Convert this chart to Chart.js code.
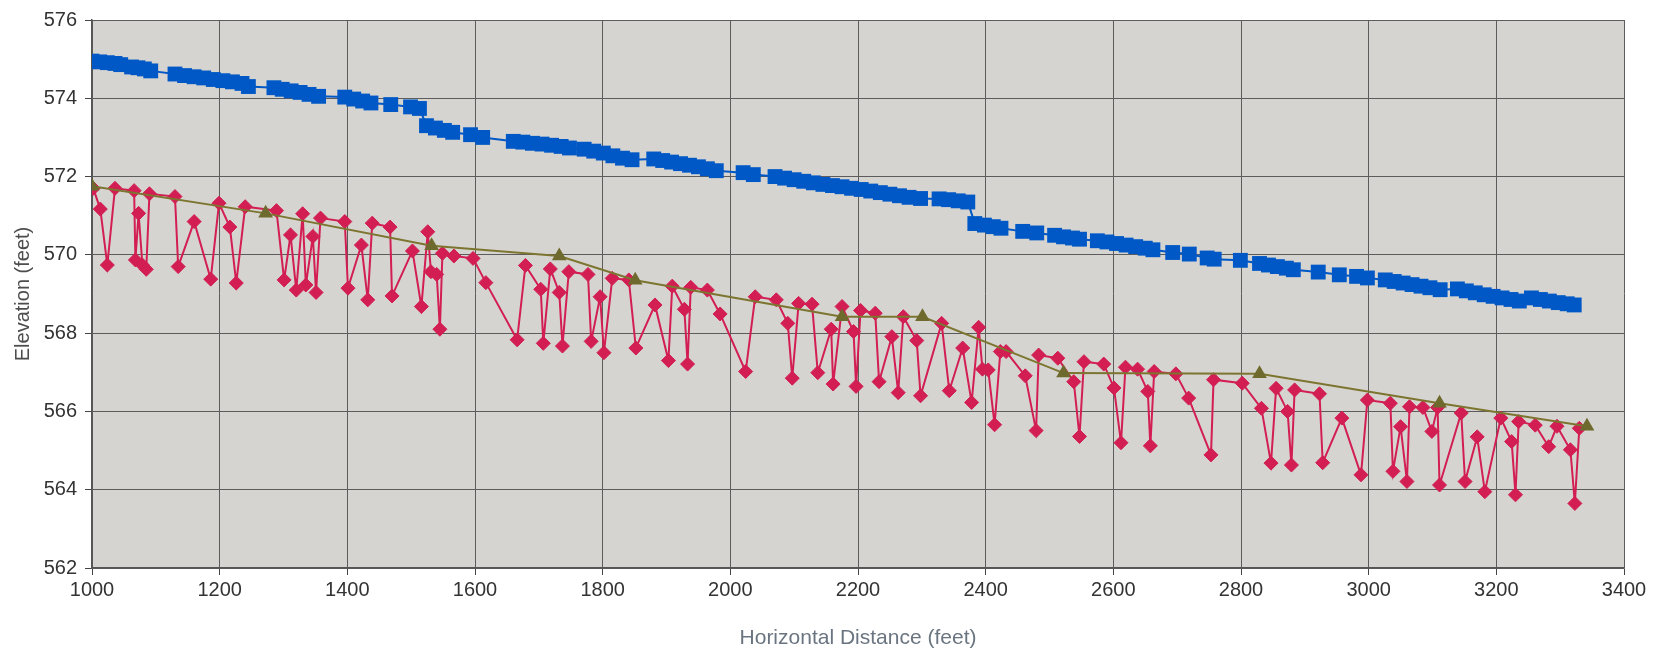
<!DOCTYPE html>
<html>
<head>
<meta charset="utf-8">
<script src="https://cdn.jsdelivr.net/npm/chart.js@4.4.1/dist/chart.umd.min.js"></script>
<style>
  html, body { margin: 0; padding: 0; background: #ffffff; }
  #wrap { width: 1657px; height: 652px; }
</style>
</head>
<body>
<div id="wrap"><canvas id="profile" width="1657" height="652"></canvas></div>
<script>
// water surface (blue squares)
const wsDist = [1000, 1012, 1024, 1036, 1045, 1062, 1072, 1082, 1092,
  1130, 1145, 1160, 1175, 1190, 1205, 1220, 1235, 1245,
  1285, 1298, 1312, 1326, 1340, 1355, 1396, 1410, 1424, 1437, 1468,
  1499, 1513, 1524, 1538, 1552, 1565, 1593, 1612,
  1660, 1675, 1690, 1705, 1720, 1735, 1748, 1771, 1786, 1801, 1816, 1831, 1846,
  1880, 1894, 1908, 1922, 1936, 1950, 1964, 1978, 2020, 2036,
  2070, 2085, 2100, 2115, 2130, 2145, 2160, 2175, 2190, 2205, 2220, 2235, 2250, 2265, 2280, 2298,
  2327, 2342, 2357, 2372, 2383, 2398, 2412, 2424, 2458, 2480, 2508, 2522, 2536, 2547,
  2575, 2590, 2605, 2620, 2635, 2650, 2662, 2693, 2719, 2747, 2758, 2799,
  2829, 2843, 2857, 2871, 2882, 2921, 2954, 2981, 2998,
  3026, 3040, 3054, 3068, 3082, 3096, 3112, 3139, 3153, 3167, 3181, 3195, 3209, 3223, 3236,
  3255, 3269, 3283, 3297, 3311, 3322];
const wsElev = [574.95, 574.93, 574.91, 574.89, 574.86, 574.80, 574.78, 574.75, 574.70,
  574.62, 574.58, 574.55, 574.52, 574.48, 574.45, 574.42, 574.38, 574.30,
  574.27, 574.23, 574.19, 574.15, 574.10, 574.05, 574.03, 573.98, 573.93, 573.88, 573.84,
  573.78, 573.74, 573.30, 573.24, 573.18, 573.13, 573.07, 573.00,
  572.90, 572.88, 572.85, 572.83, 572.80, 572.77, 572.73, 572.70, 572.65, 572.60, 572.53, 572.47, 572.43,
  572.45, 572.41, 572.37, 572.33, 572.29, 572.25, 572.20, 572.15, 572.10, 572.05,
  572.00, 571.96, 571.92, 571.88, 571.84, 571.80, 571.77, 571.74, 571.70, 571.67, 571.63, 571.59, 571.55, 571.51, 571.47, 571.44,
  571.43, 571.41, 571.38, 571.35, 570.80, 570.76, 570.72, 570.68, 570.60, 570.56, 570.50, 570.46, 570.43, 570.40,
  570.36, 570.33, 570.29, 570.25, 570.21, 570.17, 570.13, 570.06, 570.02, 569.92, 569.89, 569.86,
  569.78, 569.74, 569.70, 569.66, 569.62, 569.56, 569.49, 569.45, 569.41,
  569.36, 569.32, 569.28, 569.24, 569.20, 569.16, 569.11, 569.13, 569.08, 569.03, 568.98, 568.94, 568.90, 568.86, 568.82,
  568.90, 568.86, 568.82, 568.78, 568.75, 568.72];

// surveyed bed points (red diamonds)
const bedDist = [1002, 1013, 1024, 1036, 1066, 1068, 1073, 1079, 1085, 1090,
  1130, 1135, 1160, 1186, 1199, 1216, 1226, 1240, 1289, 1301, 1311, 1320, 1330, 1335, 1346, 1351, 1358,
  1396, 1401, 1422, 1432, 1439, 1467, 1470, 1502, 1516, 1526, 1531, 1540, 1545, 1549, 1567, 1597, 1617,
  1666, 1679, 1703, 1707, 1718, 1732, 1737, 1747, 1777, 1782, 1796, 1802, 1815, 1841, 1852,
  1882, 1903, 1909, 1928, 1933, 1938, 1964, 1984, 2024, 2039, 2072, 2090, 2097, 2107, 2128, 2137,
  2158, 2161, 2175, 2193, 2197, 2204, 2227, 2233, 2253, 2263, 2271, 2292, 2298, 2331, 2343, 2364, 2378,
  2389, 2395, 2404, 2414, 2423, 2432, 2462, 2479, 2483, 2513, 2538, 2547, 2554, 2585, 2601, 2612, 2619,
  2638, 2654, 2658, 2664, 2698, 2718, 2753, 2757, 2802, 2832, 2847, 2855, 2873, 2879, 2884, 2923, 2928,
  2958, 2988, 2998, 3034, 3038, 3050, 3060, 3064, 3085, 3099, 3108, 3111, 3145, 3151, 3170, 3182,
  3207, 3224, 3230, 3235, 3261, 3282, 3295, 3316, 3323, 3330];
const bedElev = [571.70, 571.17, 569.74, 571.70, 571.64, 569.87, 571.06, 569.74, 569.63, 571.56,
  571.49, 569.70, 570.85, 569.38, 571.32, 570.71, 569.28, 571.23, 571.13, 569.36, 570.51, 569.10, 571.05, 569.23, 570.47, 569.04, 570.94,
  570.85, 569.15, 570.25, 568.85, 570.81, 570.71, 568.95, 570.10, 568.68, 570.59, 569.57, 569.50, 568.10, 570.04, 569.97, 569.91, 569.29,
  567.83, 569.73, 569.12, 567.74, 569.64, 569.04, 567.67, 569.57, 569.50, 567.79, 568.93, 567.50, 569.40, 569.36, 567.62,
  568.72, 567.30, 569.20, 568.61, 567.21, 569.17, 569.10, 568.49, 567.02, 568.93, 568.85, 568.25, 566.85, 568.76, 568.74, 566.99,
  568.10, 566.70, 568.68, 568.04, 566.64, 568.58, 568.51, 566.76, 567.91, 566.48, 568.42, 567.81, 566.40, 568.25, 566.53, 567.62, 566.23,
  568.15, 567.08, 567.06, 565.66, 567.53, 567.53, 566.91, 565.51, 567.44, 567.36, 566.76, 565.36, 567.27, 567.21, 566.60, 565.20, 567.13,
  567.08, 566.51, 565.12, 567.02, 566.96, 566.34, 564.89, 566.81, 566.72, 566.08, 564.68, 566.59, 566.00, 564.63, 566.55, 566.45, 564.69,
  565.83, 564.38, 566.29, 566.21, 564.47, 565.61, 564.21, 566.12, 566.10, 565.49, 566.10, 564.12, 565.96, 564.21, 565.35, 563.95,
  565.83, 565.23, 563.87, 565.74, 565.65, 565.10, 565.62, 565.02, 563.65, 565.57];

// profile line (olive triangles)
const lineDist = [1000, 1272, 1532, 1732, 1851, 2175, 2301, 2522, 2829, 3111, 3342];
const lineElev = [571.75, 571.06, 570.23, 569.97, 569.35, 568.42, 568.42, 566.98, 566.96, 566.21, 565.62];

const xTicks = [1000, 3400, 200];
const yTicks = [562, 576, 2];

function pts(xs, ys) {
    return xs.map((x, i) => ({ x: x, y: ys[i] }));
}

const plotBg = {
    id: 'plotBg',
    beforeDraw(chart) {
        const a = chart.chartArea;
        const ctx = chart.ctx;
        ctx.save();
        ctx.fillStyle = '#d6d4d0';
        ctx.fillRect(a.left, a.top, a.right - a.left, a.bottom - a.top);
        ctx.restore();
    }
};

const font = 'Liberation Sans, Arial, sans-serif';

const ctx = document.getElementById('profile').getContext('2d');
const profileChart = new Chart(ctx, {
    type: 'line',
    data: {
        datasets: [
            {
                label: 'Water Surface',
                data: pts(wsDist, wsElev),
                borderColor: '#0058c6',
                backgroundColor: '#0058c6',
                borderWidth: 2,
                pointStyle: 'rect',
                pointRadius: 10.5,
                pointBorderColor: '#0058c6',
                pointBorderWidth: 0,
                tension: 0,
                order: 3
            },
            {
                label: 'Bed',
                data: pts(bedDist, bedElev),
                borderColor: '#d21e52',
                backgroundColor: '#d21e52',
                borderWidth: 2,
                pointStyle: 'rectRot',
                pointRadius: 7,
                pointBorderWidth: 1,
                tension: 0,
                order: 2
            },
            {
                label: 'Profile',
                data: pts(lineDist, lineElev),
                borderColor: '#7c7530',
                backgroundColor: '#6e6a2e',
                borderWidth: 2,
                pointStyle: 'triangle',
                pointRadius: 8.5,
                pointBorderWidth: 0,
                tension: 0,
                order: 1
            }
        ]
    },
    options: {
        responsive: false,
        animation: false,
        layout: { padding: { left: 11, right: 33, top: 20, bottom: 1 } },
        plugins: {
            legend: { display: false },
            tooltip: { enabled: false }
        },
        scales: {
            x: {
                type: 'linear',
                min: xTicks[0],
                max: xTicks[1],
                ticks: {
                    stepSize: xTicks[2],
                    autoSkip: false,
                    maxRotation: 0,
                    padding: 3,
                    color: '#333333',
                    font: { family: font, size: 20 },
                    callback: v => String(v)
                },
                grid: { color: '#5c5c5c', lineWidth: 1, tickLength: 7, tickColor: '#444444' },
                border: { color: '#555555', width: 1.5 },
                title: {
                    display: true,
                    text: 'Horizontal Distance (feet)',
                    color: '#6a7581',
                    font: { family: font, size: 21 },
                    padding: 0
                },
                afterFit: s => { s.height = 83; }
            },
            y: {
                min: yTicks[0],
                max: yTicks[1],
                ticks: {
                    stepSize: yTicks[2],
                    padding: 8,
                    color: '#333333',
                    font: { family: font, size: 20 },
                    callback: v => String(v)
                },
                grid: { color: '#5c5c5c', lineWidth: 1, tickLength: 7, tickColor: '#444444' },
                border: { color: '#555555', width: 1.5 },
                title: {
                    display: true,
                    text: 'Elevation (feet)',
                    color: '#4d4d4d',
                    font: { family: font, size: 20 },
                    padding: 0
                },
                afterFit: s => { s.width = 81; }
            }
        }
    },
    plugins: [plotBg]
});
</script>
</body>
</html>
